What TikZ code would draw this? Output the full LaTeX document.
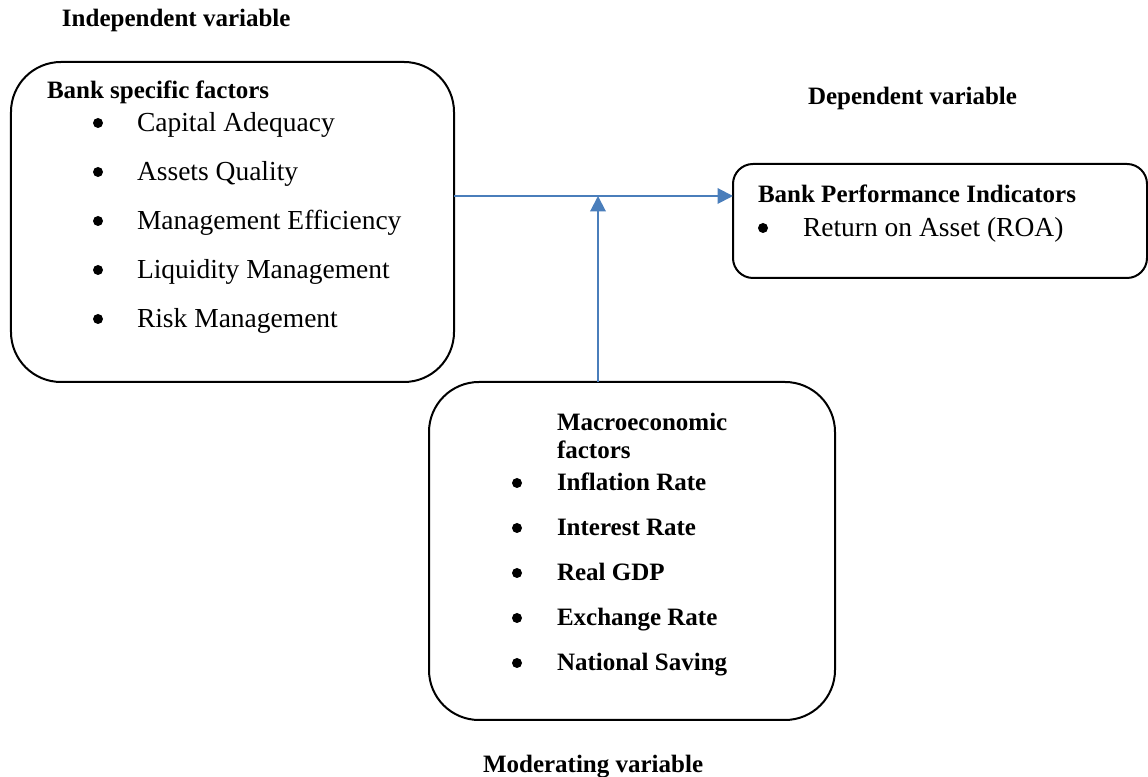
\documentclass[tikz,border=0pt]{standalone}
\usepackage{fontspec}
\setmainfont{Liberation Serif}
\usetikzlibrary{arrows.meta,calc,positioning}

\begin{document}
\begin{tikzpicture}[x=0.4pt, y=-0.4pt,
    every node/.style={inner sep=0pt, outer sep=0pt},
    box/.style={draw=black, line width=0.8pt, rounded corners=20pt},
    head/.style={anchor=base west, font=\fontsize{10}{12}\selectfont\bfseries},
    item/.style={anchor=base west, font=\fontsize{11}{13}\selectfont},
    bolditem/.style={anchor=base west, font=\fontsize{10}{12}\selectfont\bfseries},
    dot/.style={circle, fill=black, minimum size=4pt},
    link/.style={draw={rgb,255:red,74;green,126;blue,187}, line width=0.8pt,
        -{Triangle[length=6.2pt, width=6.2pt]}} ]
    \useasboundingbox (0,0) rectangle (1148,777);

    % boxes
    \node[box, minimum width=177.2pt, minimum height=128pt] (bank) at (232.5,222) {};
    \node[box, rounded corners=8pt, minimum width=165.6pt, minimum height=45.6pt] (perf) at (940,221) {};
    \node[box, minimum width=162.4pt, minimum height=135.2pt] (macro) at (632,551) {};

    % variable labels
    \node[head] (indep) at (62,27) {Independent variable};
    \node[head] (dep) at (808,105) {Dependent variable};
    \node[head] (moder) at (483,773) {Moderating variable};

    % bank specific factors
    \node[head] (bankhead) at (47,99) {Bank specific factors};
    \foreach \txt [count=\i] in {Capital Adequacy, Assets Quality, Management Efficiency,
        Liquidity Management, Risk Management} {
        \node[dot] (bankdot\i) at (98,{123+49*(\i-1)}) {};
        \node[item] (bankitem\i) at (137,{132+49*(\i-1)}) {\txt};
    }

    % performance
    \node[head] (perfhead) at (758,203) {Bank Performance Indicators};
    \node[dot] (perfdot) at (763,228) {};
    \node[item] (perfitem) at (803,237) {Return on Asset (ROA)};

    % macroeconomic factors
    \node[head] (macrohead1) at (557,431) {Macroeconomic};
    \node[head] (macrohead2) at (557,459) {factors};
    \foreach \txt [count=\i] in {Inflation Rate, Interest Rate, Real GDP,
        Exchange Rate, National Saving} {
        \node[dot] (macrodot\i) at (517,{483+45*(\i-1)}) {};
        \node[bolditem] (macroitem\i) at (557,{491+45*(\i-1)}) {\txt};
    }

    % connectors
    \coordinate (meet) at (598,196);
    \draw[link] (bank.east |- meet) -- (perf.west |- meet);
    \draw[link] (macro.north -| meet) -- (meet);

\end{tikzpicture}
\end{document}
